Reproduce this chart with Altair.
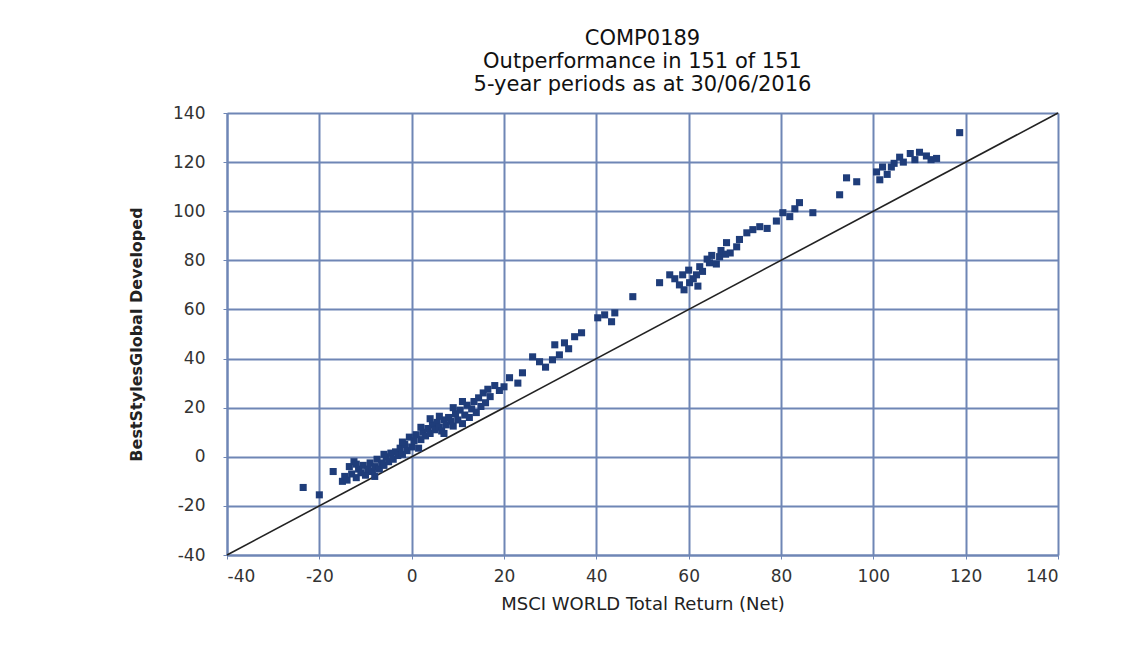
import altair as alt
import pandas as pd

title_lines = ["COMP0189", "Outperformance in 151 of 151", "5-year periods as at 30/06/2016"]
x_title = "MSCI WORLD Total Return (Net)"
y_title = "BestStylesGlobal Developed"
tick_values = [-40, -20, 0, 20, 40, 60, 80, 100, 120, 140]
diag = [-40, 140]

msci = [
    -23.5, -20, -17, -15, -14.5, -14, -13.5, -13, -12.5, -12, -11.5, -11, -10.5, -10, -9.5, -9,
    -8.5, -8, -7.5, -7, -6.5, -6, -5.5, -5, -4.5, -4, -3.5, -3, -2.5, -2, -1.5, -1, -0.5, 0,
    0.5, 1, 1.5, 2, 2.5, 3, 3.5, 4, 4.5, 5, 5.5, 6, 6.5, 7, 7.5, 8, 8.5, 9, 9.5, 10, 10.5, 11,
    11.5, 12, 12.5, 13, 13.5, 14, 14.5, 15, 15.5, 16, 16.5, 17, 18, 19, -8, -2, 4, 7, 11, -12,
    6, 9, 2, -6,
    21.2, 20, 24, 23, 26.2, 27.7, 30.5, 32, 31, 33.1, 35.3, 36.8, 34, 29,
    40.3, 41.8, 43.3, 44, 47.9,
    53.7, 55.9, 58, 60.2, 61.7, 58.7, 62.4, 64.5, 66.7, 68.2, 70.4, 72.6, 73.9, 57, 60, 63, 65,
    67, 69, 71, 75.4, 59, 61, 64, 66, 62, 68,
    80.4, 81.9, 84, 86.9, 92.7, 94.2, 96.4, 83, 77, 79,
    100.7, 101.4, 102, 103.9, 103, 105.7, 106.5, 108, 109, 110, 111.5, 112.5, 113.7, 118.7, 104.5,
]
best = [
    -12.5, -15.5, -6, -10, -8, -9.5, -4, -7, -2, -8.5, -5, -6.5, -3.5, -7.5, -5, -2.5,
    -6, -4, -1, -5, -2.5, -3.5, 0, -2, 1.5, -1, 2, 0.5, 3.5, 1, 5, 2.5, 8, 4,
    6.5, 9, 3.5, 7, 10, 8.5, 11.5, 9.5, 13, 11, 14, 12, 10.5, 15, 13, 16, 14.5, 12.5, 17.5, 15, 19, 13.5,
    17, 21, 16, 19.5, 22.5, 18, 24, 20.5, 26, 22, 27.5, 24.5, 29, 27, -8, 6, 15.5, 9.5, 22.5, -3,
    16.5, 20, 12, 1,
    32.2, 28.5, 34.2, 30, 40.7, 38.7, 39.5, 41.5, 45.6, 46.4, 48.9, 50.5, 44, 36.5,
    56.6, 57.8, 55, 58.6, 65.2,
    70.9, 74.1, 70, 70.9, 74.1, 74.1, 77.4, 79, 81.5, 87.2, 85.5, 91.2, 92.5, 72.5, 76, 75.5, 82,
    84, 83, 88.5, 93.7, 68, 72.5, 80.5, 78.5, 69.5, 82.5,
    99.4, 97.8, 103.5, 99.4, 106.7, 113.6, 112, 101, 93, 96,
    116, 112.8, 118, 118, 115, 122, 120, 123.5, 121, 124, 122.5, 121, 121.5, 132, 119.5,
]

df = pd.DataFrame({"msci": msci, "best": best})
dline = pd.DataFrame({"msci": diag, "best": diag})

grid_col = "#6f86b5"
font = "DejaVu Sans"
label_expr = "replace(datum.label, '\u2212', '-')"

xs = alt.Scale(domain=[-40, 140], nice=False, zero=False)
ys = alt.Scale(domain=[-40, 140], nice=False, zero=False)

x_axis = alt.Axis(values=tick_values, title=x_title, grid=True, gridColor=grid_col, gridWidth=2,
                  domainColor=grid_col, domainWidth=2, tickColor=grid_col, tickSize=4,
                  labelExpr=label_expr,
                  labelFont=font, labelFontSize=17, labelColor="#333333", labelPadding=9,
                  titleFont=font, titleFontSize=18, titleFontWeight="normal", titleColor="#222222",
                  titlePadding=11)
y_axis = alt.Axis(values=tick_values, title=y_title, grid=True, gridColor=grid_col, gridWidth=2,
                  domainColor=grid_col, domainWidth=2, tickColor=grid_col, tickSize=4,
                  labelExpr=label_expr,
                  labelFont=font, labelFontSize=17, labelColor="#333333", labelPadding=18,
                  titleFont=font, titleFontSize=16, titleFontWeight="bold", titleColor="#222222",
                  titlePadding=28)

pts = alt.Chart(df).mark_point(shape="square", filled=True, size=50, opacity=1,
                               color="#1f3d7a").encode(
    x=alt.X("msci:Q", scale=xs, axis=x_axis),
    y=alt.Y("best:Q", scale=ys, axis=y_axis),
)

line = alt.Chart(dline).mark_line(color="#222222", strokeWidth=1.6).encode(
    x=alt.X("msci:Q", scale=xs),
    y=alt.Y("best:Q", scale=ys),
)

chart = alt.layer(line, pts).properties(
    width=831, height=442,
    autosize=alt.AutoSizeParams(type="none"),
    padding={"left": 219, "top": 105, "right": 73, "bottom": 94},
    title=alt.TitleParams(text=title_lines, font=font, fontSize=21, fontWeight="normal",
                          color="#111111", anchor="middle", lineHeight=23, offset=9),
).configure_view(stroke=grid_col, strokeWidth=2).configure(background="white")

chart.save("out.html", embed_options={"renderer": "svg", "actions": False})
